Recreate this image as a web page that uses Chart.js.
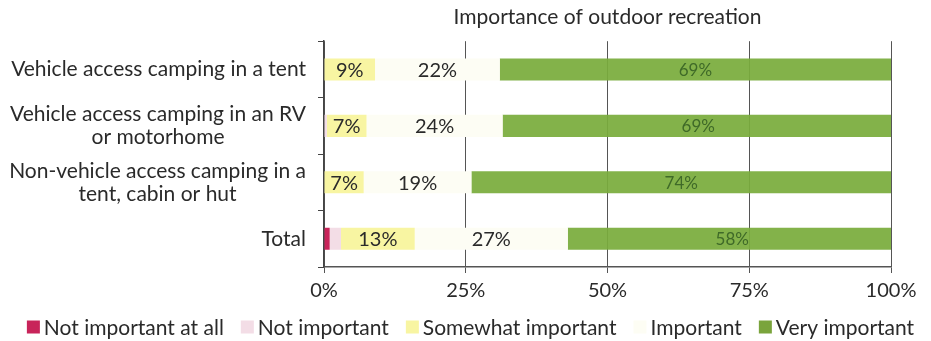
<!DOCTYPE html>
<html>
<head>
<meta charset="utf-8">
<script src="https://cdn.jsdelivr.net/npm/chart.js@4/dist/chart.umd.min.js"></script>
<style>
  html, body { margin: 0; padding: 0; background: #fff; }
  #wrap { width: 931px; height: 341px; }
</style>
</head>
<body>
<div id="wrap"><canvas id="chart"></canvas></div>
<script>
const categories = [
  ["Vehicle access camping in a tent"],
  ["Vehicle access camping in an RV", "or motorhome"],
  ["Non-vehicle access camping in a", "tent, cabin or hut"],
  ["Total"]
]
const notAtAll = [0, 0, 0, 1]
const notImportant = [0, 0.5, 0, 2]
const somewhat = [9, 7, 7, 13]
const important = [22, 24, 19, 27]
const veryImportant = [69, 69, 74, 58]
const xTicks = [0, 25, 50, 75, 100]

const FONT = "Lato, 'Open Sans', sans-serif"
const INK = "#2a2a2a"

// draws the category names centred line by line, right edge flush to the axis
const categoryLabels = {
  id: "categoryLabels",
  afterDraw(chart) {
    const ctx = chart.ctx
    const y = chart.scales.y
    const right = y.right - 18
    ctx.save()
    ctx.font = "21px " + FONT
    ctx.fillStyle = INK
    ctx.textAlign = "center"
    ctx.textBaseline = "middle"
    categories.forEach((lines, i) => {
      const w = Math.max(...lines.map(l => ctx.measureText(l).width))
      const cx = right - w / 2
      const cy = y.getPixelForValue(i)
      const lh = 23
      const top = cy - (lines.length - 1) * lh / 2
      lines.forEach((l, j) => ctx.fillText(l, cx, top + j * lh))
    })
    ctx.restore()
  }
}

// percentage labels in the middle of each labelled segment
const segmentLabels = {
  id: "segmentLabels",
  afterDatasetsDraw(chart) {
    const ctx = chart.ctx
    ctx.save()
    ctx.textAlign = "center"
    ctx.textBaseline = "middle"
    chart.data.datasets.forEach((ds, di) => {
      if (!ds.showLabel) return
      ctx.font = ds.labelSize + "px " + FONT
      chart.getDatasetMeta(di).data.forEach((bar, i) => {
        const v = ds.data[i]
        const p = bar.getProps(["x", "base", "y"], true)
        ctx.fillStyle = ds.labelColor
        ctx.fillText(v + "%", (p.x + p.base) / 2, p.y + 1)
      })
    })
    ctx.restore()
  }
}

// compact legend row along the bottom: small square, tight gap, then the name
const bottomLegend = {
  id: "bottomLegend",
  afterDraw(chart) {
    const ctx = chart.ctx
    const box = 13, gap = 4, spacing = 17
    ctx.save()
    ctx.font = "21px " + FONT
    ctx.textBaseline = "middle"
    ctx.textAlign = "left"
    const items = chart.data.datasets.map(ds => ({
      label: ds.label,
      color: ds.legendColor || ds.backgroundColor,
      w: box + gap + ctx.measureText(ds.label).width
    }))
    const total = items.reduce((s, it) => s + it.w, 0) + spacing * (items.length - 1)
    let x = (chart.width - total) / 2 + 5
    const cy = 327
    items.forEach(it => {
      ctx.fillStyle = it.color
      ctx.fillRect(x, cy - box / 2, box, box)
      ctx.fillStyle = INK
      ctx.fillText(it.label, x + box + gap, cy + 1)
      x += it.w + spacing
    })
    ctx.restore()
  }
}

const barOpts = { barPercentage: 0.39, categoryPercentage: 1, borderWidth: 0 }

new Chart(document.getElementById("chart"), {
  type: "bar",
  data: {
    labels: categories.map(c => c.join(" ")),
    datasets: [
      { label: "Not important at all", data: notAtAll, backgroundColor: "#c8245a", ...barOpts },
      { label: "Not important", data: notImportant, backgroundColor: "#f3dde6", ...barOpts },
      { label: "Somewhat important", data: somewhat, backgroundColor: "#f8f5a2", showLabel: true, labelColor: INK, labelSize: 20, ...barOpts },
      { label: "Important", data: important, backgroundColor: "#fdfdf4", showLabel: true, labelColor: INK, labelSize: 20, ...barOpts },
      { label: "Very important", data: veryImportant, backgroundColor: "rgba(122, 172, 60, 0.93)", legendColor: "#7aa43c", showLabel: true, labelColor: "#3f6a28", labelSize: 17, ...barOpts }
    ]
  },
  options: {
    indexAxis: "y",
    responsive: true,
    maintainAspectRatio: false,
    animation: false,
    layout: { padding: { left: 0, right: 40, top: 0, bottom: 32 } },
    plugins: {
      title: {
        display: true,
        text: "Importance of outdoor recreation",
        fullSize: false,
        color: INK,
        font: { family: FONT, size: 21, weight: "normal" },
        padding: { top: 5, bottom: 11 }
      },
      legend: { display: false },
      tooltip: { enabled: false }
    },
    scales: {
      x: {
        stacked: true,
        min: 0,
        max: 100,
        afterBuildTicks: axis => { axis.ticks = xTicks.map(v => ({ value: v })) },
        border: { color: "#555", width: 1.5 },
        grid: { color: "#555", lineWidth: 1, tickLength: 6 },
        ticks: {
          color: INK,
          font: { family: FONT, size: 20 },
          padding: 6,
          callback: v => v + "%"
        }
      },
      y: {
        stacked: true,
        border: { color: "#444", width: 1.5 },
        grid: { drawOnChartArea: false, color: "#444", tickLength: 6, offset: true },
        afterFit: axis => { axis.width = 324 },
        ticks: { color: "transparent", font: { family: FONT, size: 15 } }
      }
    }
  },
  plugins: [categoryLabels, segmentLabels, bottomLegend]
})
</script>
</body>
</html>
